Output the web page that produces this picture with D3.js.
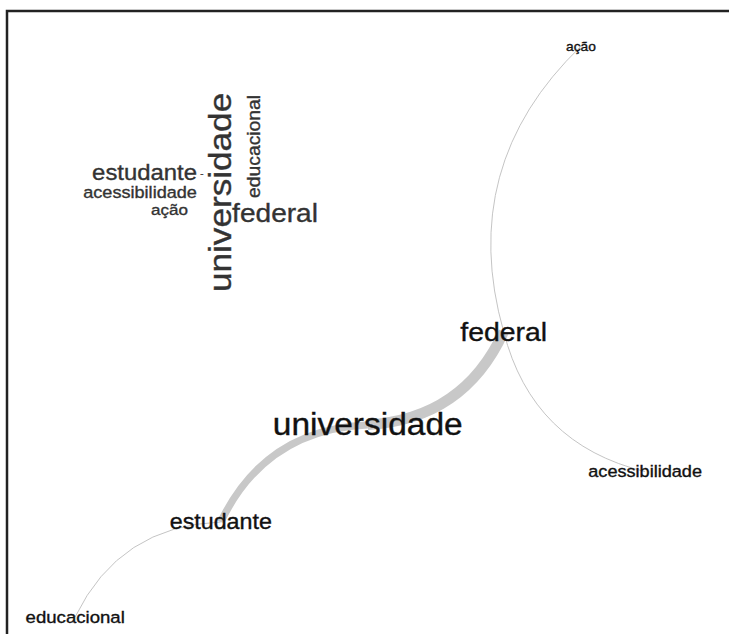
<!DOCTYPE html>
<html><head><meta charset="utf-8">
<script src="https://cdn.jsdelivr.net/npm/d3@7"></script>
<style>body{margin:0;background:#fff} svg{display:block}</style>
</head><body>
<svg id="c" width="729" height="634"></svg>
<script>
// ---- data ----
const cloudWords  = ["universidade","federal","estudante","educacional","acessibilidade","ação","-"];
const cloudWeight = [29.3, 23.4, 19.9, 16.1, 15.1, 14.2, 8];
const cloudRotate = [-90, 0, 0, -90, 0, 0, 0];
const cloudX      = [61.1, 76.8, 30.2, 71.4, 28.6, 39.1, 50.7];
const cloudY      = [51.1, 64.5, 45.5, 30.2, 53.6, 61.4, 44.1];

const nodes      = ["universidade","federal","estudante","educacional","acessibilidade","ação"];
const nodeWeight = [27.9, 23.7, 19.4, 15.5, 15.1, 11.5];
const nodeX      = [50.4, 70.1, 29.1, 8.0, 90.6, 81.3];
const nodeY      = [65.8, 50.3, 82.0, 97.8, 73.6, 2.7];

const edgeFrom   = ["universidade","universidade","ação","federal","estudante"];
const edgeTo     = ["federal","estudante","federal","acessibilidade","educacional"];
const edgeWeight = [4, 3, 1, 1, 1];

// ---- drawing ----
const svg = d3.select("#c");
const W = 729, H = 634, STRETCH = 1.1, BEND = 0.3;
const FONT = "'Liberation Sans', Arial, sans-serif";

svg.append("rect").attr("x",7).attr("y",11).attr("width",W+20).attr("height",H+20)
  .attr("fill","none").attr("stroke","#222").attr("stroke-width",2.5);

// network
const nx = d3.scaleLinear().domain([0,100]).range([20,710]);
const ny = d3.scaleLinear().domain([0,100]).range([30,630]);
const ew = d3.scaleLinear().domain([1,4]).range([0.9,10.5]);
const fs = d3.scaleLinear().domain([0,30]).range([0,30*1.2/STRETCH]);
const pos = {};
nodes.forEach((n,i)=> pos[n] = [nx(nodeX[i]), ny(nodeY[i])]);

const edges = edgeFrom.map((f,i)=>({s:pos[f], t:pos[edgeTo[i]], w:edgeWeight[i]}));
function arc(e){
  const [x0,y0]=e.s,[x1,y1]=e.t, dx=x1-x0, dy=y1-y0, L=Math.hypot(dx,dy);
  const px=-dy/L, py=dx/L, mx=(x0+x1)/2, my=(y0+y1)/2;
  const p=d3.path(); p.moveTo(x0,y0);
  p.quadraticCurveTo(mx+px*BEND*L, my+py*BEND*L, x1, y1);
  return p.toString();
}
svg.append("g").selectAll("path").data(edges).join("path")
  .attr("d",arc).attr("fill","none")
  .attr("stroke", d=> d.w>1 ? "#c8c8c8" : "#bdbdbd")
  .attr("stroke-width", d=>ew(d.w));

svg.append("g").selectAll("text").data(nodes).join("text")
  .attr("transform",(d,i)=>`translate(${pos[d][0]},${pos[d][1]}) scale(${STRETCH},1)`)
  .attr("text-anchor","middle").attr("dy","0.35em")
  .attr("font-family",FONT).attr("font-size",(d,i)=>fs(nodeWeight[i]))
  .attr("fill","#111").attr("stroke","#111").attr("stroke-width",0.35).text(d=>d);

// word cloud
const cx = d3.scaleLinear().domain([0,100]).range([60,340]);
const cy = d3.scaleLinear().domain([0,100]).range([80,300]);
svg.append("g").selectAll("text").data(cloudWords).join("text")
  .attr("transform",(d,i)=>`translate(${cx(cloudX[i])},${cy(cloudY[i])}) rotate(${cloudRotate[i]}) scale(${STRETCH},1)`)
  .attr("text-anchor","middle")
  .attr("font-family",FONT).attr("font-size",(d,i)=>fs(cloudWeight[i]))
  .attr("fill","#333").attr("stroke","#333").attr("stroke-width",0.35).text(d=>d);
</script>
</body></html>
